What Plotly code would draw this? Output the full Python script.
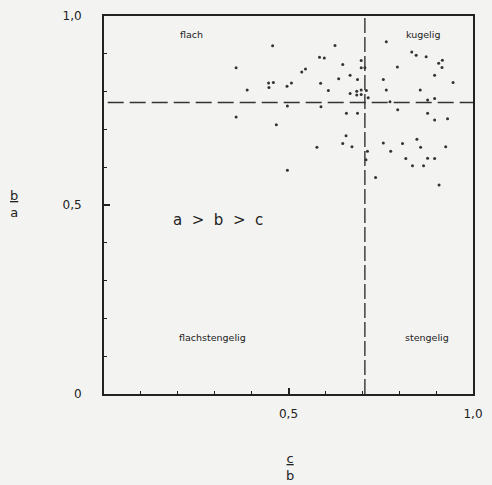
import plotly.graph_objects as go

# Form ratios of the pebbles: c/b (x) and b/a (y)
c_over_b = [
    0.457, 0.358, 0.536, 0.388, 0.446, 0.459, 0.447, 0.496, 0.508, 0.497,
    0.358, 0.467, 0.497, 0.626, 0.584, 0.597, 0.546, 0.647, 0.697, 0.697,
    0.707, 0.667, 0.636, 0.687, 0.587, 0.608, 0.667, 0.685, 0.697, 0.685,
    0.697, 0.711, 0.716, 0.588, 0.657, 0.687, 0.656, 0.647, 0.672, 0.577,
    0.714, 0.710, 0.736, 0.765, 0.834, 0.846, 0.873, 0.917, 0.907, 0.916,
    0.795, 0.896, 0.757, 0.946, 0.765, 0.857, 0.775, 0.877, 0.896, 0.796,
    0.877, 0.896, 0.931, 0.848, 0.757, 0.809, 0.858, 0.926, 0.777, 0.818,
    0.877, 0.896, 0.836, 0.866, 0.908,
]
b_over_a = [
    0.921, 0.863, 0.852, 0.804, 0.823, 0.824, 0.811, 0.814, 0.823, 0.762,
    0.733, 0.712, 0.592, 0.922, 0.891, 0.889, 0.860, 0.872, 0.882, 0.863,
    0.863, 0.843, 0.834, 0.832, 0.822, 0.803, 0.795, 0.801, 0.804, 0.791,
    0.792, 0.803, 0.784, 0.760, 0.743, 0.743, 0.683, 0.663, 0.654, 0.653,
    0.642, 0.620, 0.573, 0.932, 0.905, 0.896, 0.892, 0.883, 0.875, 0.864,
    0.865, 0.843, 0.832, 0.824, 0.804, 0.804, 0.773, 0.778, 0.782, 0.752,
    0.743, 0.725, 0.728, 0.674, 0.664, 0.663, 0.653, 0.654, 0.642, 0.623,
    0.624, 0.623, 0.604, 0.604, 0.553,
]

# Class boundaries of the shape diagram
cb_limit = 0.707
ba_limit = 0.771

# Tick labels (decimal comma)
x_tick_vals = [0.5, 1.0]
x_tick_text = ["0,5", "1,0"]
y_tick_vals = [0, 0.5, 1.0]
y_tick_text = ["0", "0,5", "1,0"]

# Shape class names and their positions
class_names = ["flach", "kugelig", "flachstengelig", "stengelig"]
class_x = [0.237, 0.865, 0.293, 0.875]
class_y = [0.952, 0.952, 0.150, 0.150]

bg = "#f3f3f1"
ink = "#222222"
font_family = "DejaVu Sans"

W, H = 492, 485
L, R, T, B = 104, 9, 15, 91
pw, ph = W - L - R, H - T - B

fig = go.Figure()
fig.add_trace(go.Scatter(
    x=c_over_b, y=b_over_a, mode="markers",
    marker=dict(size=3, color="#333333"),
    hoverinfo="skip", showlegend=False,
))

# dashed class boundaries
fig.add_shape(type="line", xref="x", yref="y", x0=cb_limit, x1=cb_limit, y0=0, y1=1,
              line=dict(color="#333", width=1.4, dash="15px,4px"), layer="above")
fig.add_shape(type="line", xref="x", yref="y", x0=0.01, x1=1, y0=ba_limit, y1=ba_limit,
              line=dict(color="#333", width=1.4, dash="16px,6px"), layer="above")

for name, cx, cy in zip(class_names, class_x, class_y):
    fig.add_annotation(x=cx, y=cy, xref="x", yref="y", text=name, showarrow=False,
                       font=dict(family=font_family, size=9.5, color=ink))

fig.add_annotation(x=0.31, y=0.461, xref="x", yref="y", text="a  >  b  >  c",
                   showarrow=False, font=dict(family=font_family, size=15, color=ink))


def px_to_paper(px, py):
    return (px - L) / pw, (H - B - py) / ph


# axis titles as fractions
for text, (px, py) in [("<u>b</u><br>a", (12, 203)), ("<u>c</u><br>b", (295, 467))]:
    ax_, ay_ = px_to_paper(px, py)
    fig.add_annotation(x=ax_, y=ay_, xref="paper", yref="paper", text=text,
                       showarrow=False, font=dict(family=font_family, size=13, color=ink),
                       xanchor="center", yanchor="middle")

axis_common = dict(
    range=[0, 1], showgrid=False, zeroline=False,
    showline=True, linecolor=ink, linewidth=2, mirror=True,
    ticks="inside", ticklen=6, tickwidth=1.5, tickcolor=ink,
    minor=dict(dtick=0.1, ticks="inside", ticklen=3, tickcolor=ink, tickwidth=1.3),
    tickfont=dict(family=font_family, size=12, color=ink),
    fixedrange=True,
)

fig.update_xaxes(**axis_common, tickvals=x_tick_vals, ticktext=x_tick_text,
                 ticklabelstandoff=8)
fig.update_yaxes(**axis_common, tickvals=y_tick_vals, ticktext=y_tick_text,
                 ticklabelstandoff=18)

fig.update_layout(
    width=W, height=H, autosize=False,
    margin=dict(l=L, r=R, t=T, b=B, pad=0),
    paper_bgcolor=bg, plot_bgcolor=bg,
    font=dict(family=font_family, color=ink),
)

fig.write_html("out.html")
